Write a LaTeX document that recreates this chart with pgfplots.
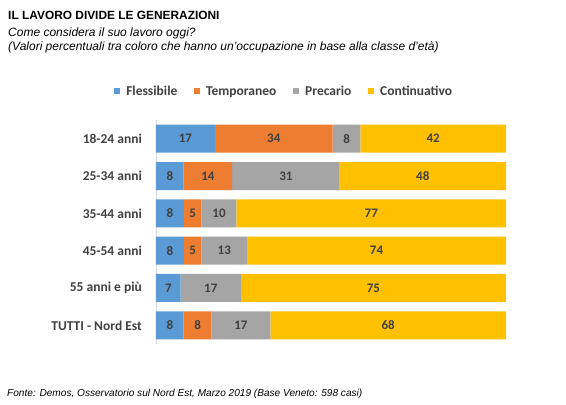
\documentclass[border=0pt]{standalone}
\usepackage{pgfplots}
\usepackage{pgfplotstable}
\pgfplotsset{compat=1.18}
\usepackage{fontspec}
\setmainfont{Liberation Sans}
\newfontfamily\calibri{Carlito}
\definecolor{cflex}{HTML}{5B9BD5}
\definecolor{ctemp}{HTML}{ED7D31}
\definecolor{cprec}{HTML}{A5A5A5}
\definecolor{ccont}{HTML}{FFC000}
\definecolor{lbl}{HTML}{404040}
\definecolor{axl}{HTML}{D9D9D9}

\pgfplotstableread{
idx flex temp prec cont
0 17 34 8 42
1 8 14 31 48
2 8 5 10 77
3 8 5 13 74
4 7 0 17 75
5 8 8 17 68
}\data
\pgfplotstablecreatecol[create col/expr={\thisrow{flex}+\thisrow{temp}+\thisrow{prec}+\thisrow{cont}}]{tot}{\data}
\pgfplotstablecreatecol[create col/expr={100*\thisrow{flex}/\thisrow{tot}}]{nflex}{\data}
\pgfplotstablecreatecol[create col/expr={100*\thisrow{temp}/\thisrow{tot}}]{ntemp}{\data}
\pgfplotstablecreatecol[create col/expr={100*\thisrow{prec}/\thisrow{tot}}]{nprec}{\data}
\pgfplotstablecreatecol[create col/expr={100*\thisrow{cont}/\thisrow{tot}}]{ncont}{\data}
\pgfplotstablecreatecol[create col/expr={\thisrow{nflex}/2}]{mflex}{\data}
\pgfplotstablecreatecol[create col/expr={\thisrow{nflex}+\thisrow{ntemp}/2}]{mtemp}{\data}
\pgfplotstablecreatecol[create col/expr={\thisrow{nflex}+\thisrow{ntemp}+\thisrow{nprec}/2}]{mprec}{\data}
\pgfplotstablecreatecol[create col/expr={\thisrow{nflex}+\thisrow{ntemp}+\thisrow{nprec}+\thisrow{ncont}/2}]{mcont}{\data}

\pgfplotsset{
  base/.style={scale only axis, width=350pt, height=224pt,
    at={(156pt,-120pt)}, anchor=north west,
    xmin=0, xmax=100, ymin=-0.5, ymax=5.5},
  sq/.style={legend image code/.code={\fill[##1,draw=none] (0pt,1pt) rectangle (6.3pt,7.5pt);}},
}
\newcommand{\lblfont}{\calibri\bfseries\fontsize{13.5}{15}\selectfont}
\newcommand{\datfont}{\calibri\bfseries\fontsize{13}{15}\selectfont}

\begin{document}
\begin{tikzpicture}
\useasboundingbox (0,0) rectangle (566pt,-405pt);
\node[anchor=base west, font=\bfseries\fontsize{11.9}{13}\selectfont, inner sep=0pt] at (8pt,-19.5pt) {IL LAVORO DIVIDE LE GENERAZIONI};
\node[anchor=base west, font=\itshape\fontsize{12}{13}\selectfont, inner sep=0pt] at (8pt,-36pt) {Come considera il suo lavoro oggi?};
\node[anchor=base west, font=\itshape\fontsize{12}{13}\selectfont, inner sep=0pt] at (8pt,-50pt) {(Valori percentuali tra coloro che hanno un’occupazione in base alla classe d’età)};
\node[anchor=base west, font=\itshape\fontsize{10.1}{11}\selectfont, inner sep=0pt] at (7pt,-396.5pt) {Fonte: Demos, Osservatorio sul Nord Est, Marzo 2019 (Base Veneto: 598 casi)};

\begin{axis}[base, xbar stacked, bar width=28pt,
  axis x line=none, axis y line*=left,
  y axis line style={draw=axl, line width=0.8pt},
  ytick={0,...,5},
  yticklabels={TUTTI - Nord Est, 55 anni e più, 45-54 anni, 35-44 anni, 25-34 anni, 18-24 anni},
  major tick length=0pt,
  yticklabel style={font=\lblfont, text=lbl, inner sep=0pt, xshift=-14pt},
  legend columns=4,
  legend style={at={(axis description cs:0.363,1.129)}, anchor=center, draw=none,
    font=\lblfont, text=lbl,
    cells={anchor=base west},
    /tikz/every odd column/.append style={column sep=6pt},
    /tikz/every even column/.append style={column sep=16.5pt},
    nodes={inner sep=0pt}},
  clip=false]
\addplot[fill=cflex, draw=none, sq] table[x=nflex, y expr=5-\thisrow{idx}] {\data};
\addplot[fill=ctemp, draw=none, sq] table[x=ntemp, y expr=5-\thisrow{idx}] {\data};
\addplot[fill=cprec, draw=none, sq] table[x=nprec, y expr=5-\thisrow{idx}] {\data};
\addplot[fill=ccont, draw=none, sq] table[x=ncont, y expr=5-\thisrow{idx}] {\data};
\legend{Flessibile, Temporaneo, Precario, Continuativo}
\end{axis}

\begin{axis}[base, hide axis, clip=false,
  point meta=explicit symbolic,
  unbounded coords=discard,
  nodes near coords,
  nodes near coords style={font=\datfont, text=lbl, anchor=center}]
\addplot[only marks, mark=none, nodes near coords] table[x=mflex, y expr=5-\thisrow{idx}, meta=flex] {\data};
\addplot[only marks, mark=none, nodes near coords, x filter/.expression={\thisrow{temp}==0 ? nan : x}] table[x=mtemp, y expr=5-\thisrow{idx}, meta=temp] {\data};
\addplot[only marks, mark=none, nodes near coords] table[x=mprec, y expr=5-\thisrow{idx}, meta=prec] {\data};
\addplot[only marks, mark=none, nodes near coords] table[x=mcont, y expr=5-\thisrow{idx}, meta=cont] {\data};
\end{axis}
\end{tikzpicture}
\end{document}
